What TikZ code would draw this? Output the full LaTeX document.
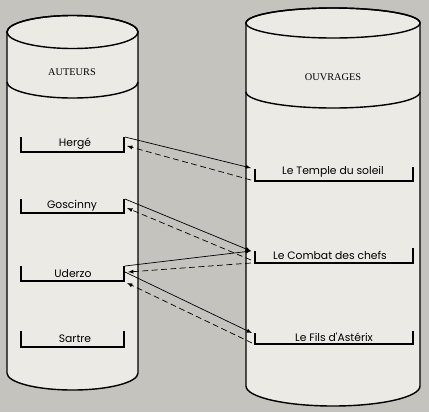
\documentclass[tikz,border=0pt]{standalone}
\usepackage{fontspec}
\newfontfamily\entfont{Poppins}
\newfontfamily\titfont{Liberation Serif}
\usetikzlibrary{arrows}
\definecolor{papier}{RGB}{196,195,189}
\definecolor{fond}{RGB}{236,234,228}
\tikzset{
  entree/.style={font=\entfont\fontsize{9.2}{10}\selectfont, inner sep=0pt},
  titre/.style={font=\titfont\fontsize{8.8}{10}\selectfont, inner sep=0pt},
  crochet/.style={line width=0.9pt},
  lien/.style={-latex, line width=0.6pt},
  retour/.style={-latex, line width=0.6pt, dash pattern=on 5pt off 3pt},
  cyl/.style={line width=1.2pt},
}
\begin{document}
\begin{tikzpicture}[x=0.03cm,y=-0.03cm]
\fill[papier] (0,0) rectangle (429,412);
\useasboundingbox (0,0) rectangle (429,412);

% les deux fichiers
\filldraw[cyl,fill=fond] (7,32) -- (7,373) arc[start angle=180,end angle=360,x radius=1.965cm,y radius=0.51cm]
  -- (138,32) arc[start angle=0,end angle=180,x radius=1.965cm,y radius=0.495cm] -- cycle;
\draw[cyl] (72.5,32) ellipse[x radius=1.965cm,y radius=0.495cm];
\draw[cyl] (7,82) arc[start angle=180,end angle=360,x radius=1.965cm,y radius=0.48cm];

\filldraw[cyl,fill=fond] (246,23) -- (246,386) arc[start angle=180,end angle=360,x radius=2.61cm,y radius=0.6cm]
  -- (420,23) arc[start angle=0,end angle=180,x radius=2.61cm,y radius=0.45cm] -- cycle;
\draw[cyl] (333,23) ellipse[x radius=2.61cm,y radius=0.45cm];
\draw[cyl] (246,92) arc[start angle=180,end angle=360,x radius=2.61cm,y radius=0.48cm];

\node[titre] (auteurs) at (72,72) {AUTEURS};
\node[titre] (ouvrages) at (333,77) {OUVRAGES};

% auteurs
\node[entree] (herge) at (75,144) {Hergé};
\node[entree] (goscinny) at (72,206) {Goscinny};
\node[entree] (uderzo) at (73,274) {Uderzo};
\node[entree] (sartre) at (75,339) {Sartre};
\draw[crochet] (21,137) |- (124,152) -- (124,137);
\draw[crochet] (21,199) |- (124,213) -- (124,199);
\draw[crochet] (21,266) |- (124,281) -- (124,266);
\draw[crochet] (21,331) |- (124,347) -- (124,331);

% ouvrages
\node[entree] (temple) at (333,172) {Le Temple du soleil};
\node[entree] (combat) at (330,255) {Le Combat des chefs};
\node[entree] (fils) at (334,337) {Le Fils d'Astérix};
\draw[crochet] (255,169) |- (413,181) -- (413,167);
\draw[crochet] (255,251) |- (413,263) -- (413,248);
\draw[crochet] (255,333) |- (413,344) -- (413,331);

% points d'accroche
\coordinate (herge-a) at (125,137);
\coordinate (herge-b) at (127,146);
\coordinate (goscinny-a) at (125,199);
\coordinate (goscinny-b) at (127,208);
\coordinate (uderzo-a) at (125,266);
\coordinate (uderzo-b) at (128,272);
\coordinate (uderzo-c) at (125,272);
\coordinate (uderzo-d) at (127,283);
\coordinate (temple-a) at (251,168);
\coordinate (temple-b) at (251,180);
\coordinate (combat-a) at (251,251);
\coordinate (combat-b) at (251,260);
\coordinate (combat-c) at (251,263);
\coordinate (fils-a) at (252,333);
\coordinate (fils-b) at (252,343);

\draw[lien] (herge-a) -- (temple-a);
\draw[retour] (temple-b) -- (herge-b);
\draw[lien] (goscinny-a) -- (combat-a);
\draw[retour] (combat-b) -- (goscinny-b);
\draw[lien] (uderzo-a) -- (combat-a);
\draw[retour] (combat-c) -- (uderzo-b);
\draw[lien] (uderzo-c) -- (fils-a);
\draw[retour] (fils-b) -- (uderzo-d);
\end{tikzpicture}
\end{document}
